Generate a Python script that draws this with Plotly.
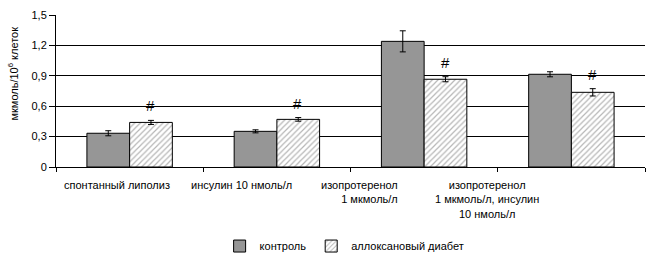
import plotly.graph_objects as go

categories = ["спонтанный липолиз", "инсулин 10 нмоль/л",
              "изопротеренол 1 мкмоль/л",
              "изопротеренол 1 мкмоль/л, инсулин 10 нмоль/л"]
category_labels = ["спонтанный липолиз", "инсулин 10 нмоль/л",
                   "изопротеренол<br>1 мкмоль/л",
                   "изопротеренол<br>1 мкмоль/л, инсулин<br>10 нмоль/л"]
label_align = ["center", "center", "right", "center"]
label_shift = [-13, -35, -65, -84]

control = [0.333, 0.352, 1.24, 0.915]
control_err = [0.025, 0.015, 0.104, 0.025]
diabetes = [0.44, 0.47, 0.866, 0.737]
diabetes_err = [0.02, 0.018, 0.025, 0.036]
significant = [True, True, True, True]

y_ticks = [0, 0.3, 0.6, 0.9, 1.2, 1.5]
y_ticktext = ["0", "0,3", "0,6", "0,9", "1,2", "1,5"]

FONT = "Liberation Sans, Arial, sans-serif"

fig = go.Figure()
fig.add_trace(go.Bar(
    name="контроль", x=categories, y=control,
    marker=dict(color="#969696", line=dict(color="black", width=1)),
    error_y=dict(type="data", array=control_err, color="black", thickness=1, width=3),
))
fig.add_trace(go.Bar(
    name="аллоксановый диабет", x=categories, y=diabetes,
    marker=dict(color="white", line=dict(color="black", width=1),
                pattern=dict(shape="/", fgcolor="#6e6e6e", bgcolor="white",
                             size=4, solidity=0.3)),
    error_y=dict(type="data", array=diabetes_err, color="black", thickness=1, width=3),
))

annotations = []
for c, v, e, s in zip(categories, diabetes, diabetes_err, significant):
    if s:
        annotations.append(dict(x=c, y=v + e, xref="x", yref="y", text="#",
                                showarrow=False, xanchor="center", yanchor="bottom",
                                xshift=21, yshift=4,
                                font=dict(family=FONT, size=15, color="black")))
for c, t, a, sh in zip(categories, category_labels, label_align, label_shift):
    annotations.append(dict(x=c, y=0, xref="x", yref="paper", text=t, align=a,
                            showarrow=False, xanchor="center", yanchor="top",
                            xshift=sh, yshift=-10,
                            font=dict(family=FONT, size=11, color="black")))
annotations.append(dict(x=0, y=0.615, xref="paper", yref="paper",
                        text="мкмоль/10<sup>6</sup> клеток", textangle=-90,
                        showarrow=False, xanchor="center", yanchor="middle",
                        xshift=-43, font=dict(family=FONT, size=11, color="black")))

fig.update_layout(
    width=648, height=266,
    margin=dict(l=56, r=3, t=15, b=99),
    paper_bgcolor="white", plot_bgcolor="white",
    barmode="group", bargap=0.42, bargroupgap=0,
    font=dict(family=FONT, size=11, color="black"),
    showlegend=True,
    legend=dict(orientation="h", x=0.49, y=-0.52, xanchor="center", yanchor="middle",
                font=dict(family=FONT, size=11, color="black"),
                itemwidth=30, tracegroupgap=0, traceorder="normal"),
    annotations=annotations,
)
fig.update_xaxes(showticklabels=False, showline=True, linecolor="black", linewidth=1,
                 ticks="outside", tickson="boundaries", ticklen=4, tickcolor="black",
                 showgrid=False, fixedrange=True)
fig.update_yaxes(range=[0, 1.5], tickvals=y_ticks, ticktext=y_ticktext,
                 showline=True, linecolor="black", linewidth=1,
                 ticks="outside", ticklen=6, tickcolor="black", showgrid=False,
                 zeroline=False,
                 minor=dict(tickvals=y_ticks[1:-1], showgrid=True, gridcolor="black",
                            gridwidth=1, ticks=""),
                 tickfont=dict(family=FONT, size=11, color="black"))

fig.write_html("out.html")
